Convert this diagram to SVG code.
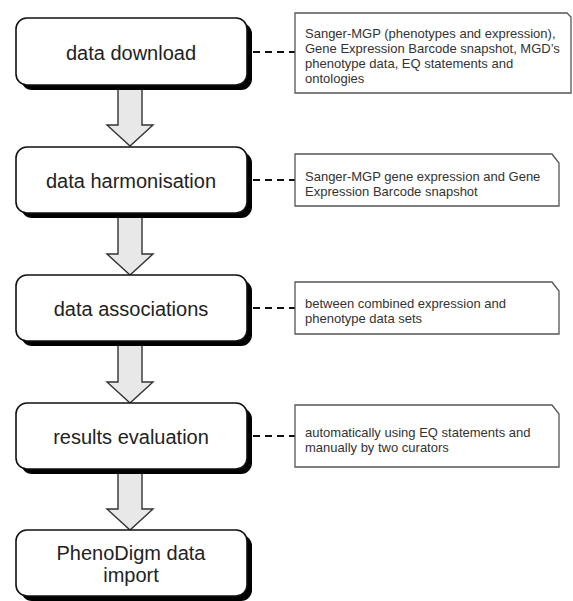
<svg xmlns="http://www.w3.org/2000/svg" width="573" height="601" viewBox="0 0 573 601">
<style>
.shadow{fill:#000}
.box{fill:#fff;stroke:#111;stroke-width:1.6}
.btxt{font-family:"Liberation Sans",Arial,sans-serif;font-size:20px;fill:#222;text-anchor:middle}
.note{fill:#fff;stroke:#555;stroke-width:1.3}
.ntxt{font-family:"Liberation Sans",Arial,sans-serif;font-size:13px;fill:#333}
.arrow{fill:#e8e8e8;stroke:#333;stroke-width:1.4;stroke-linejoin:miter}
.dash{stroke:#111;stroke-width:2;stroke-dasharray:7,5;fill:none}
</style>
<rect width="573" height="601" fill="#fff"/>
<g id="connectors">
<path class="arrow" d="M118,84 H142 V125 H153 L130,146 L107,125 H118 Z"/>
<path class="arrow" d="M118,212 H142 V254 H153 L130,275 L107,254 H118 Z"/>
<path class="arrow" d="M118,340 H142 V382 H153 L130,403 L107,382 H118 Z"/>
<path class="arrow" d="M118,468 H142 V509 H153 L130,530 L107,509 H118 Z"/>
<line class="dash" x1="253" y1="52" x2="295" y2="52"/>
<line class="dash" x1="253" y1="180" x2="295" y2="180"/>
<line class="dash" x1="253" y1="308" x2="295" y2="308"/>
<line class="dash" x1="253" y1="436" x2="295" y2="436"/>
</g>
<g id="n1">
<rect class="shadow" x="21" y="23" width="231" height="67" rx="11"/>
<rect class="box" x="16" y="18" width="231" height="67" rx="11"/>
<text class="btxt" x="131" y="60">data download</text>
</g>
<g id="n2">
<rect class="shadow" x="21" y="152" width="231" height="66" rx="11"/>
<rect class="box" x="16" y="147" width="231" height="66" rx="11"/>
<text class="btxt" x="131" y="188">data harmonisation</text>
</g>
<g id="n3">
<rect class="shadow" x="21" y="280" width="231" height="66" rx="11"/>
<rect class="box" x="16" y="275" width="231" height="66" rx="11"/>
<text class="btxt" x="131" y="316">data associations</text>
</g>
<g id="n4">
<rect class="shadow" x="21" y="408" width="231" height="66" rx="11"/>
<rect class="box" x="16" y="403" width="231" height="66" rx="11"/>
<text class="btxt" x="131" y="444">results evaluation</text>
</g>
<g id="n5">
<rect class="shadow" x="21" y="535" width="231" height="66" rx="11"/>
<rect class="box" x="16" y="530" width="231" height="66" rx="11"/>
<text class="btxt" x="131" y="560">PhenoDigm data</text>
<text class="btxt" x="131" y="582">import</text>
</g>
<g id="note1">
<path class="note" d="M295,13 H567 L571,17 V93 H295 Z"/>
<text class="ntxt" x="305" y="38">Sanger-MGP (phenotypes and expression),</text>
<text class="ntxt" x="305" y="53">Gene Expression Barcode snapshot, MGD’s</text>
<text class="ntxt" x="305" y="68">phenotype data, EQ statements and</text>
<text class="ntxt" x="305" y="83">ontologies</text>
</g>
<g id="note2">
<path class="note" d="M295,154 H552 L559,163 V206 H295 Z"/>
<text class="ntxt" x="305" y="181">Sanger-MGP gene expression and Gene</text>
<text class="ntxt" x="305" y="195.5">Expression Barcode snapshot</text>
</g>
<g id="note3">
<path class="note" d="M295,282 H552 L559,291 V334 H295 Z"/>
<text class="ntxt" x="305" y="308">between combined expression and</text>
<text class="ntxt" x="305" y="323">phenotype data sets</text>
</g>
<g id="note4">
<path class="note" d="M295,405 H552 L559,414 V467 H295 Z"/>
<text class="ntxt" x="305" y="437">automatically using EQ statements and</text>
<text class="ntxt" x="305" y="452">manually by two curators</text>
</g>
</svg>
